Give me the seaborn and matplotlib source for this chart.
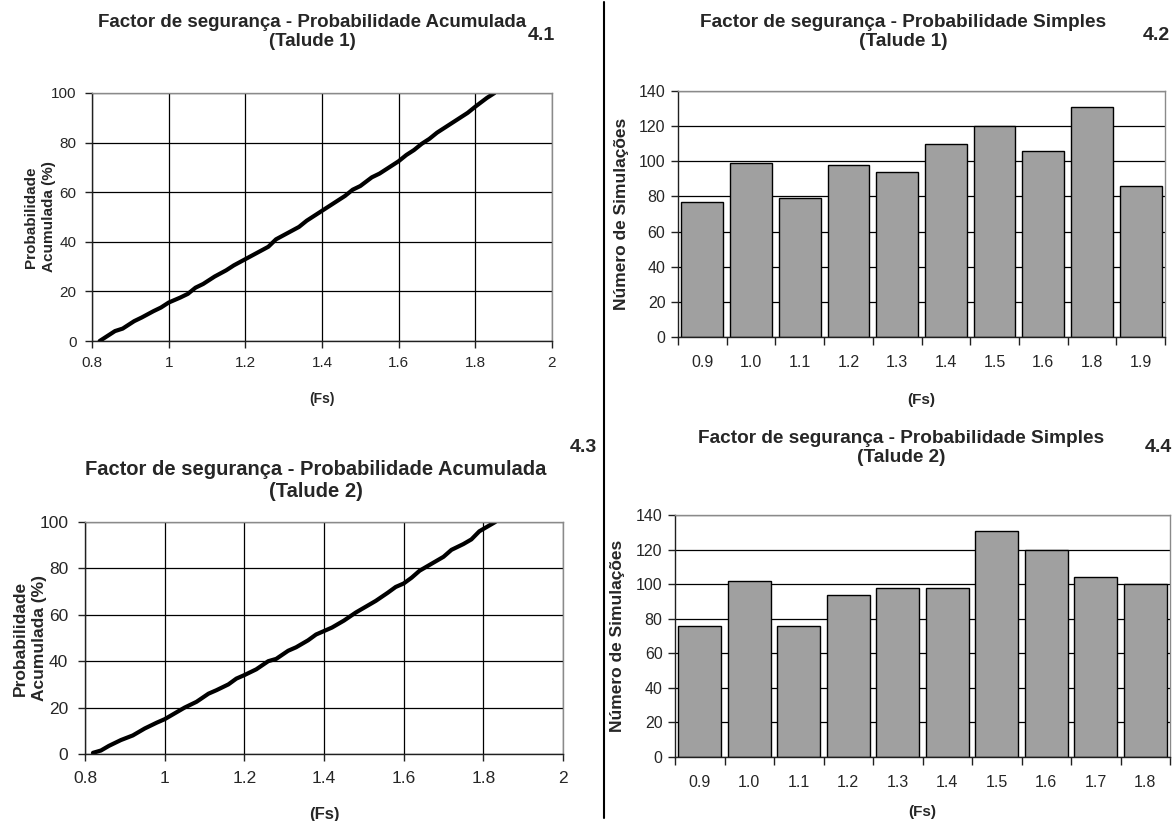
import numpy as np
import pandas as pd
import matplotlib
matplotlib.use("Agg")
import matplotlib.pyplot as plt
from matplotlib.lines import Line2D
from matplotlib.ticker import MultipleLocator, FixedLocator
import seaborn as sns

# ---------------- data ----------------
fs1_x = [0.82, 0.86, 0.88, 0.91, 0.93, 0.96, 0.98, 1.00, 1.03, 1.05, 1.07, 1.09,
         1.12, 1.15, 1.17, 1.20, 1.23, 1.26, 1.28, 1.31, 1.34, 1.36, 1.38, 1.40,
         1.43, 1.46, 1.48, 1.50, 1.53, 1.55, 1.58, 1.60, 1.62, 1.64, 1.66, 1.68,
         1.70, 1.73, 1.75, 1.78, 1.80, 1.83, 1.85]
prob1 = [0, 4, 5, 8, 9.5, 12, 13.5, 15.5, 17.5, 19, 21.5, 23,
         26, 28.5, 30.5, 33, 35.5, 38, 41, 43.5, 46, 48.5, 50.5, 52.5,
         55.5, 58.5, 61, 62.5, 66, 67.5, 70.5, 72.5, 75, 77, 79.5, 81.5,
         84, 87, 89, 92, 94.5, 98, 100]

fs2_x = [0.82, 0.84, 0.86, 0.89, 0.92, 0.95, 0.98, 1.00, 1.03, 1.05, 1.08, 1.11,
         1.13, 1.16, 1.18, 1.20, 1.23, 1.26, 1.28, 1.31, 1.33, 1.36, 1.38, 1.40,
         1.42, 1.45, 1.48, 1.50, 1.53, 1.56, 1.58, 1.60, 1.62, 1.64, 1.67, 1.70,
         1.72, 1.75, 1.77, 1.79, 1.81, 1.83]
prob2 = [0.5, 1.5, 3.5, 6, 8, 11, 13.5, 15, 18, 20, 22.5, 26,
         27.5, 30, 32.5, 34, 36.5, 40, 41, 44.5, 46, 49, 51.5, 53,
         54.5, 57.5, 61, 63, 66, 69.5, 72, 73.5, 76, 79, 82, 85,
         88, 90.5, 92.5, 96, 98, 100]

cats1 = ["0.9", "1.0", "1.1", "1.2", "1.3", "1.4", "1.5", "1.6", "1.8", "1.9"]
sims1 = [77, 99, 79, 98, 94, 110, 120, 106, 131, 86]

cats2 = ["0.9", "1.0", "1.1", "1.2", "1.3", "1.4", "1.5", "1.6", "1.7", "1.8"]
sims2 = [76, 102, 76, 94, 98, 98, 131, 120, 104, 100]

line_xticks = [0.8, 1.0, 1.2, 1.4, 1.6, 1.8, 2.0]
line_xticklabels = ["0.8", "1", "1.2", "1.4", "1.6", "1.8", "2"]

title_acc = "Factor de segurança - Probabilidade Acumulada"
title_simp = "Factor de segurança - Probabilidade Simples"

# ---------------- style ----------------
sns.set_theme(style="white")
plt.rcParams["font.family"] = ["Liberation Sans", "DejaVu Sans"]

W, H = 1176, 821
fig = plt.figure(figsize=(W / 100, H / 100), dpi=100)


def ax_px(x0, y0, x1, y1):
    return fig.add_axes([x0 / W, 1 - y1 / H, (x1 - x0) / W, (y1 - y0) / H])


def style_frame(ax):
    for s in ["left", "bottom"]:
        ax.spines[s].set_color("#202020")
        ax.spines[s].set_linewidth(1.0)
    for s in ["top", "right"]:
        ax.spines[s].set_visible(True)
        ax.spines[s].set_color("#8a8a8a")
        ax.spines[s].set_linewidth(1.0)


def line_panel(ax, xs, ys, tick_fs, pad):
    df = pd.DataFrame({"Fs": xs, "P": ys})
    sns.lineplot(data=df, x="Fs", y="P", ax=ax, color="black", linewidth=3.0)
    ax.set_xlim(0.8, 2.0)
    ax.set_ylim(0, 100)
    ax.xaxis.set_major_locator(FixedLocator(line_xticks))
    ax.set_xticklabels(line_xticklabels)
    ax.yaxis.set_major_locator(MultipleLocator(20))
    ax.grid(True, color="black", linewidth=0.9)
    ax.set_axisbelow(True)
    ax.tick_params(axis="both", direction="out", length=5, width=1,
                   color="#202020", labelsize=tick_fs, bottom=True, left=True,
                   pad=pad)
    style_frame(ax)


def bar_panel(ax, cats, vals, tick_fs):
    df = pd.DataFrame({"Fs": cats, "N": vals})
    sns.barplot(data=df, x="Fs", y="N", ax=ax, color="#a0a0a0",
                edgecolor="black", linewidth=1.0, width=0.86, saturation=1)
    ax.set_xlim(-0.5, len(cats) - 0.5)
    ax.set_ylim(0, 140)
    ax.yaxis.set_major_locator(MultipleLocator(20))
    ax.yaxis.grid(True, color="black", linewidth=0.9)
    ax.xaxis.grid(False)
    ax.set_axisbelow(True)
    ax.xaxis.set_minor_locator(FixedLocator(np.arange(-0.5, len(cats), 1.0)))
    ax.tick_params(axis="x", which="major", length=0, labelsize=tick_fs, pad=13)
    ax.tick_params(axis="x", which="minor", length=6, width=1, color="#202020",
                   direction="out", bottom=True)
    ax.tick_params(axis="y", direction="out", length=5, width=1,
                   color="#202020", labelsize=tick_fs, left=True, pad=4)
    style_frame(ax)


# ---- 4.1 ----
ax1 = ax_px(92, 93, 552, 341)
line_panel(ax1, fs1_x, prob1, 11, 6)
ax1.set_xlabel("(Fs)", fontsize=10, fontweight="bold")
ax1.xaxis.set_label_coords(0.5, -0.206)
ax1.set_ylabel("Probabilidade\nAcumulada (%)", fontsize=11, fontweight="bold",
               va="center", linespacing=1.4)
ax1.yaxis.set_label_coords(-0.113, 0.5)

# ---- 4.2 ----
ax2 = ax_px(678, 91, 1165, 337)
bar_panel(ax2, cats1, sims1, 11.5)
ax2.set_xlabel("(Fs)", fontsize=11, fontweight="bold")
ax2.xaxis.set_label_coords(0.5, -0.228)
ax2.set_ylabel("Número de Simulações", fontsize=12.5, fontweight="bold", va="center")
ax2.yaxis.set_label_coords(-0.117, 0.5)

# ---- 4.3 ----
ax3 = ax_px(85, 522, 563, 754)
line_panel(ax3, fs2_x, prob2, 12.5, 7)
ax3.set_xlabel("(Fs)", fontsize=12, fontweight="bold")
ax3.xaxis.set_label_coords(0.5, -0.228)
ax3.set_ylabel("Probabilidade\nAcumulada (%)", fontsize=12.5, fontweight="bold",
               va="center", linespacing=1.3)
ax3.yaxis.set_label_coords(-0.115, 0.5)

# ---- 4.4 ----
ax4 = ax_px(675, 515, 1170, 757)
bar_panel(ax4, cats2, sims2, 11.5)
ax4.set_xlabel("(Fs)", fontsize=11, fontweight="bold")
ax4.xaxis.set_label_coords(0.5, -0.198)
ax4.set_ylabel("Número de Simulações", fontsize=12.5, fontweight="bold", va="center")
ax4.yaxis.set_label_coords(-0.117, 0.5)

# ---- titles & panel numbers ----
def ftext(x, y, s, **kw):
    fig.text(x / W, 1 - y / H, s, ha="center", va="center", **kw)

ftext(312, 32, title_acc + "\n(Talude 1)", fontsize=13.5, fontweight="bold", linespacing=1.15)
ftext(903, 32, title_simp + "\n(Talude 1)", fontsize=13.7, fontweight="bold", linespacing=1.15)
ftext(316, 480, title_acc + "\n(Talude 2)", fontsize=14.5, fontweight="bold", linespacing=1.2)
ftext(901, 448, title_simp + "\n(Talude 2)", fontsize=13.7, fontweight="bold", linespacing=1.15)

ftext(541, 35, "4.1", fontsize=14, fontweight="bold")
ftext(1156, 35, "4.2", fontsize=14, fontweight="bold")
ftext(583, 447, "4.3", fontsize=14, fontweight="bold")
ftext(1158, 447, "4.4", fontsize=14, fontweight="bold")

# vertical separator
fig.add_artist(Line2D([604 / W, 604 / W], [1 - 2 / H, 1 - 818 / H],
                      color="black", linewidth=1.5))

fig.savefig("out.png", dpi=100)
